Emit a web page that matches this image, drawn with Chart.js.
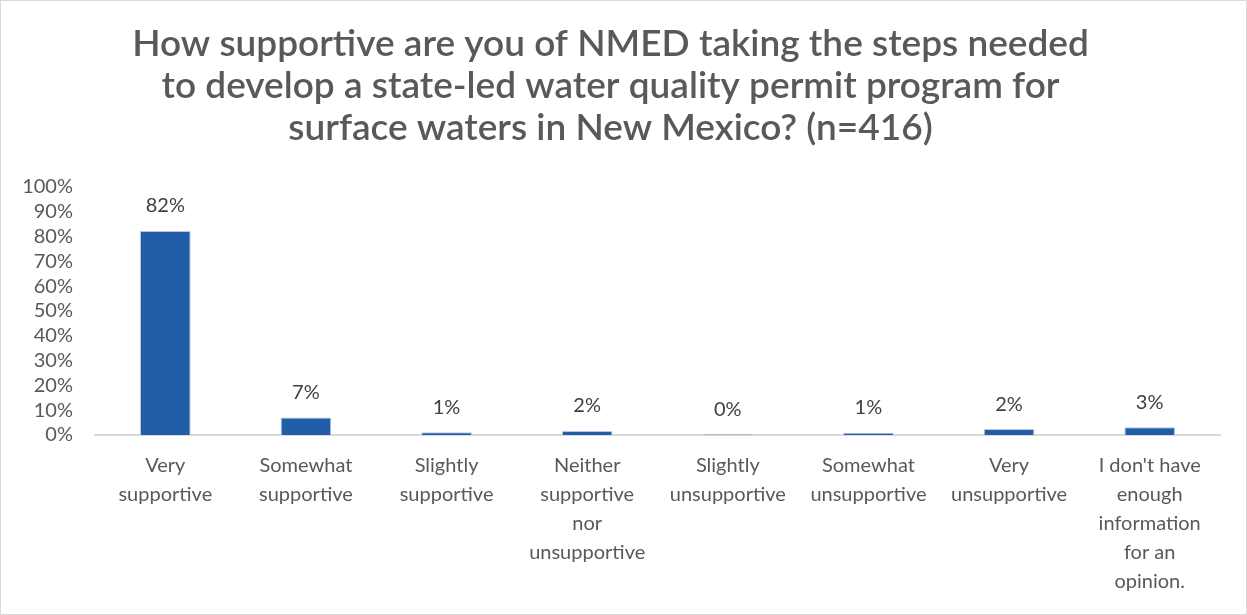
<!DOCTYPE html>
<html>
<head>
<meta charset="utf-8">
<script src="https://cdn.jsdelivr.net/npm/chart.js@4/dist/chart.umd.min.js"></script>
<style>
  html, body { margin: 0; padding: 0; background: #fff; }
  #wrap { width: 1247px; height: 615px; box-sizing: border-box; border: 1px solid #d9d9d9; }
  canvas { display: block; }
</style>
</head>
<body>
<div id="wrap"><canvas id="chart" width="1245" height="613"></canvas></div>
<script>
const TITLE_LINES = [
  'How supportive are you of NMED taking the steps needed',
  'to develop a state-led water quality permit program for',
  'surface waters in New Mexico? (n=416)'
]
const CATEGORIES = [
  ['Very', 'supportive'],
  ['Somewhat', 'supportive'],
  ['Slightly', 'supportive'],
  ['Neither', 'supportive', 'nor', 'unsupportive'],
  ['Slightly', 'unsupportive'],
  ['Somewhat', 'unsupportive'],
  ['Very', 'unsupportive'],
  ["I don't have", 'enough', 'information', 'for an', 'opinion.']
]
// percent of respondents
const VALUES = [82.3, 7.1, 1.1, 1.6, 0.3, 0.9, 2.4, 3.1]

const TEXT = '#595959'
const FONT = "Lato, 'Open Sans', sans-serif"

// value labels above each bar
const barLabels = {
  id: 'barLabels',
  afterDatasetsDraw(chart) {
    const ctx = chart.ctx
    const meta = chart.getDatasetMeta(0)
    ctx.save()
    ctx.font = `20px ${FONT}`
    ctx.fillStyle = '#404040'
    ctx.textAlign = 'center'
    ctx.textBaseline = 'bottom'
    meta.data.forEach((bar, i) => {
      ctx.fillText(Math.round(VALUES[i]) + '%', bar.x, bar.y - 15)
    })
    ctx.restore()
  }
}

new Chart(document.getElementById('chart').getContext('2d'), {
  type: 'bar',
  data: {
    labels: CATEGORIES,
    datasets: [{
      data: VALUES,
      backgroundColor: '#225ea8',
      borderColor: '#b4c7e7',
      borderWidth: 1,
      barPercentage: 0.36,
      categoryPercentage: 1
    }]
  },
  options: {
    responsive: false,
    animation: false,
    devicePixelRatio: 1,
    layout: { padding: { left: 0, right: 26, top: 0, bottom: 2 } },
    scales: {
      y: {
        min: 0, max: 100,
        grid: { display: false, drawTicks: false },
        border: { display: false },
        afterFit: s => { s.width = 94 },
        ticks: {
          stepSize: 10,
          autoSkip: false,
          padding: 22,
          color: TEXT,
          font: { family: FONT, size: 20 },
          callback: v => v + '%'
        }
      },
      x: {
        grid: { display: false, drawTicks: false },
        border: { color: '#d9d9d9', width: 2 },
        ticks: {
          autoSkip: false,
          maxRotation: 0,
          padding: 16,
          color: TEXT,
          font: { family: FONT, size: 20, lineHeight: 1.45 }
        }
      }
    },
    plugins: {
      legend: { display: false },
      tooltip: { enabled: false },
      title: {
        display: true,
        text: TITLE_LINES,
        color: TEXT,
        font: { family: FONT, size: 37, weight: '600', lineHeight: 1.135 },
        padding: { top: 22, bottom: 38 }
      }
    }
  },
  plugins: [barLabels]
})
</script>
</body>
</html>
